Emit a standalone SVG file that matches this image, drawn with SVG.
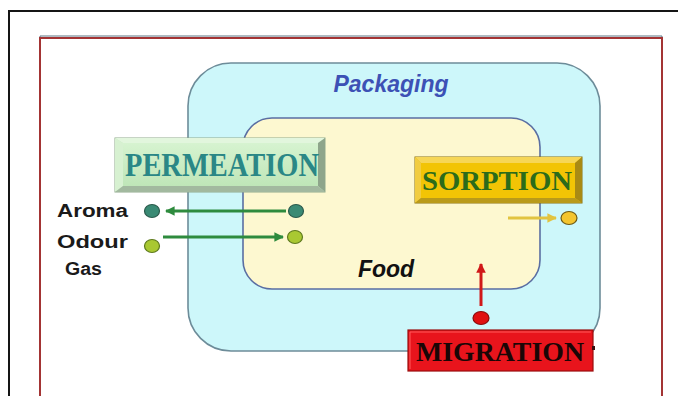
<svg xmlns="http://www.w3.org/2000/svg" width="678" height="396" viewBox="0 0 678 396">
  <defs>
    <style>
      .sans { font-family: "Liberation Sans", Arial, sans-serif; font-weight: bold; }
      .serif { font-family: "Liberation Serif", "Times New Roman", serif; font-weight: bold; }
      .zone { stroke-width: 1.6; }
      .flow { fill: none; stroke-width: 3; }
    </style>
    <marker id="headGreen" viewBox="0 0 10 10" refX="9" refY="5" markerWidth="3.2" markerHeight="3.2" orient="auto-start-reverse">
      <path d="M0,0 L10,5 L0,10 Z" fill="#2e8b3e"/>
    </marker>
    <marker id="headGold" viewBox="0 0 10 10" refX="9" refY="5" markerWidth="3.2" markerHeight="3.2" orient="auto">
      <path d="M0,0 L10,5 L0,10 Z" fill="#e2c440"/>
    </marker>
    <marker id="headRed" viewBox="0 0 10 10" refX="9" refY="5" markerWidth="3.2" markerHeight="3.2" orient="auto">
      <path d="M0,0 L10,5 L0,10 Z" fill="#d01818"/>
    </marker>
    <linearGradient id="mint" x1="0" y1="0" x2="0" y2="1">
      <stop offset="0" stop-color="#d6f3d0"/>
      <stop offset="1" stop-color="#bfe6b8"/>
    </linearGradient>
  </defs>

  <rect width="678" height="396" fill="#ffffff"/>

  <!-- page frames -->
  <g id="frame">
    <path d="M9,398 V11 H680" fill="none" stroke="#151515" stroke-width="2"/>
    <path d="M40,398 V37 H662 V398" fill="none" stroke="#5d7483" stroke-width="1" transform="translate(0,-1)"/>
    <path d="M40,398 V38 H662 V398" fill="none" stroke="#a33434" stroke-width="2"/>
  </g>

  <!-- packaging layer -->
  <g id="packaging">
    <rect class="zone" x="188" y="63" width="412" height="288" rx="43" ry="43" fill="#cdf7fa" stroke="#6d8c99"/>
    <text class="sans" x="391" y="92" font-size="23" font-style="italic" fill="#3c51b5" text-anchor="middle">Packaging</text>
  </g>

  <!-- food layer -->
  <g id="food">
    <rect class="zone" x="243" y="118" width="297" height="171" rx="29" ry="29" fill="#fdf8d0" stroke="#5a6ea2"/>
    <text class="sans" x="386" y="277" font-size="23" font-style="italic" fill="#111111" text-anchor="middle">Food</text>
  </g>

  <!-- connectors -->
  <g id="connectors">
    <line class="flow" x1="286" y1="211" x2="166" y2="211" stroke="#2e8b3e" marker-end="url(#headGreen)"/>
    <line class="flow" x1="163" y1="237" x2="283" y2="237" stroke="#2e8b3e" marker-end="url(#headGreen)"/>
    <line class="flow" x1="508" y1="218" x2="556" y2="218" stroke="#e2c440" marker-end="url(#headGold)"/>
    <line class="flow" x1="481" y1="306" x2="481" y2="264" stroke="#d01818" marker-end="url(#headRed)"/>
  </g>

  <!-- permeation label -->
  <g id="permeation">
    <rect x="115" y="138" width="210" height="54" fill="#c9eac4" stroke="#8fa98c" stroke-width="1"/>
    <polygon points="115,138 325,138 318,143 123,143" fill="#e2f6dd"/>
    <polygon points="115,138 123,143 123,186 115,192" fill="#d7f1d1"/>
    <polygon points="325,138 325,192 318,186 318,143" fill="#8ea58b"/>
    <polygon points="115,192 325,192 318,186 123,186" fill="#a2b99f"/>
    <rect x="123" y="143" width="195" height="43" fill="url(#mint)"/>
    <text class="serif" x="125" y="176" font-size="33" fill="#2a8786" textLength="194" lengthAdjust="spacingAndGlyphs">PERMEATION</text>
  </g>

  <!-- sorption label -->
  <g id="sorption">
    <rect x="415" y="157" width="167" height="46" fill="#e9bb10" stroke="#8a7010" stroke-width="1"/>
    <polygon points="415,157 582,157 575,163 421,163" fill="#f6d657"/>
    <polygon points="415,157 421,163 421,198 415,203" fill="#f1cc40"/>
    <polygon points="582,157 582,203 575,198 575,163" fill="#a98a14"/>
    <polygon points="415,203 582,203 575,198 421,198" fill="#b99a1a"/>
    <rect x="421" y="163" width="154" height="35" fill="#f2c405"/>
    <text class="serif" x="497" y="190" font-size="27" fill="#2b6b1b" text-anchor="middle" textLength="150" lengthAdjust="spacingAndGlyphs">SORPTION</text>
  </g>

  <!-- migration label -->
  <g id="migration">
    <rect x="408" y="330" width="185" height="41" fill="#e8141c" stroke="#9a0c0c" stroke-width="1.2"/>
    <path d="M410,369 V332 H591" fill="none" stroke="#ff5a5a" stroke-width="1"/>
    <text class="serif" x="500" y="361" font-size="28" fill="#1a0606" text-anchor="middle" textLength="168" lengthAdjust="spacingAndGlyphs">MIGRATION</text>
    <rect x="592" y="346" width="3" height="4" fill="#3a1010"/>
  </g>

  <!-- substances -->
  <g id="aroma">
    <text class="sans" x="57" y="217" font-size="18" fill="#1a1a1a" textLength="71" lengthAdjust="spacingAndGlyphs">Aroma</text>
    <ellipse cx="152" cy="211" rx="7.5" ry="6.5" fill="#3a8a74" stroke="#2a5a4c" stroke-width="1.2"/>
    <ellipse cx="296" cy="211" rx="7.5" ry="6.5" fill="#3a8a74" stroke="#2a5a4c" stroke-width="1.2"/>
  </g>
  <g id="odour-gas">
    <text class="sans" x="57" y="248" font-size="18" fill="#1a1a1a" textLength="71" lengthAdjust="spacingAndGlyphs">Odour</text>
    <text class="sans" x="65" y="275" font-size="18" fill="#1a1a1a" textLength="37" lengthAdjust="spacingAndGlyphs">Gas</text>
    <ellipse cx="152" cy="246" rx="7.5" ry="6.5" fill="#a9c832" stroke="#5e7a1e" stroke-width="1.2"/>
    <ellipse cx="295" cy="237" rx="7.5" ry="6.5" fill="#a9c832" stroke="#5e7a1e" stroke-width="1.2"/>
  </g>
  <g id="sorbed">
    <ellipse cx="569" cy="218" rx="8" ry="6.5" fill="#f4c52e" stroke="#6e5a14" stroke-width="1.2"/>
  </g>
  <g id="migrant">
    <ellipse cx="481" cy="318" rx="8" ry="6.5" fill="#e01010" stroke="#8a0a0a" stroke-width="1.2"/>
  </g>
</svg>
